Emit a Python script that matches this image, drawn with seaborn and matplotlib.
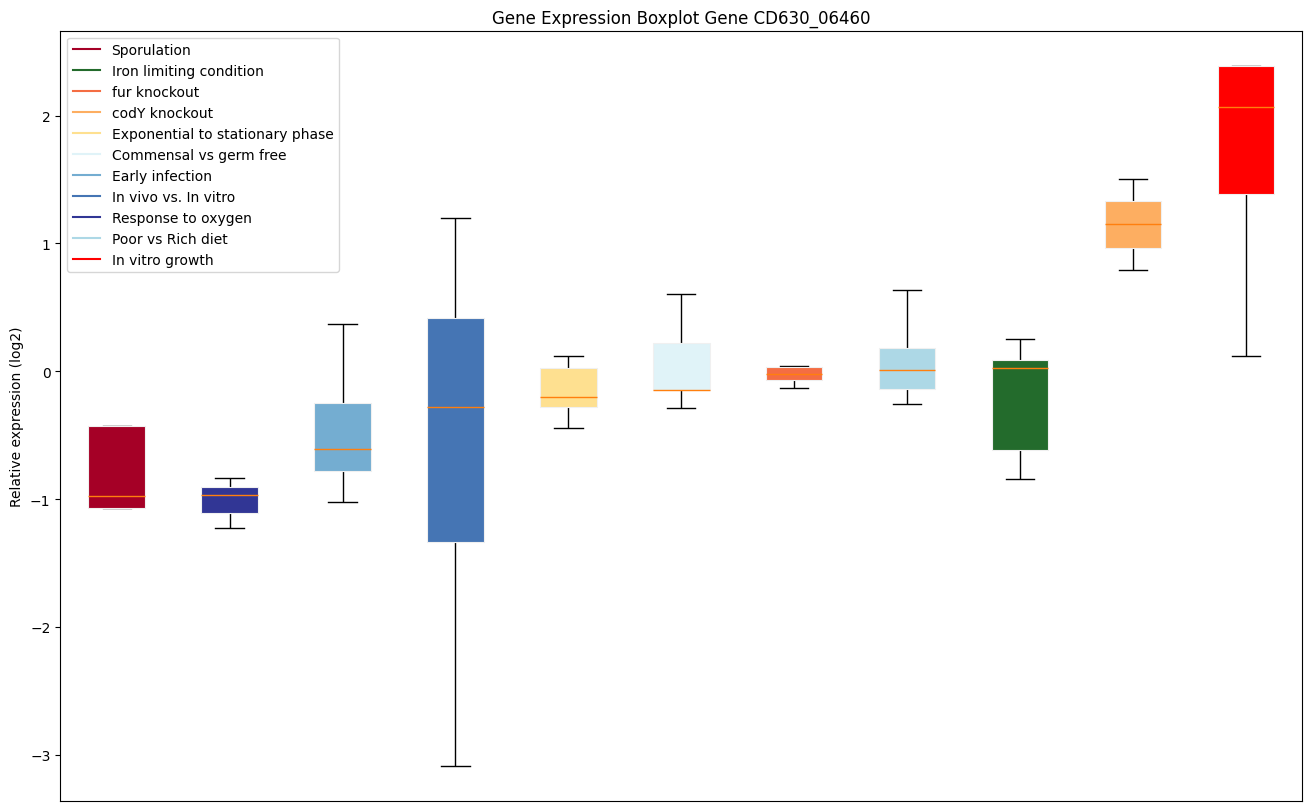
import pandas as pd
import matplotlib.pyplot as plt
from matplotlib.lines import Line2D
import seaborn as sns

# === 1. Valores por condição (min, q1, mediana, q3, max) ===
sporulation = [-1.07, -1.07, -0.977, -0.43, -0.43]
response_oxygen = [-1.227, -1.11, -0.971, -0.904, -0.836]
early_infection = [-1.026, -0.779, -0.604, -0.247, 0.367]
in_vivo_vitro = [-3.089, -1.336, -0.276, 0.414, 1.20]
exp_stationary = [-0.44, -0.279, -0.198, 0.023, 0.117]
commensal = [-0.284, -0.148, -0.143, 0.219, 0.607]
fur_knockout = [-0.133, -0.068, -0.018, 0.031, 0.042]
poor_rich = [-0.253, -0.138, 0.008, 0.18, 0.638]
iron_limiting = [-0.846, -0.617, 0.029, 0.089, 0.255]
cody_knockout = [0.794, 0.964, 1.148, 1.328, 1.50]
in_vitro_growth = [0.117, 1.39, 2.068, 2.39, 2.39]

box_order = ["Sporulation", "Response to oxygen", "Early infection", "In vivo vs. In vitro",
             "Exponential to stationary phase", "Commensal vs germ free", "fur knockout",
             "Poor vs Rich diet", "Iron limiting condition", "codY knockout", "In vitro growth"]
box_values = [sporulation, response_oxygen, early_infection, in_vivo_vitro, exp_stationary,
              commensal, fur_knockout, poor_rich, iron_limiting, cody_knockout, in_vitro_growth]

legend_order = ["Sporulation", "Iron limiting condition", "fur knockout", "codY knockout",
                "Exponential to stationary phase", "Commensal vs germ free", "Early infection",
                "In vivo vs. In vitro", "Response to oxygen", "Poor vs Rich diet", "In vitro growth"]

colors = {
    "Sporulation": "#a50026",
    "Iron limiting condition": "#236b2c",
    "fur knockout": "#f46d43",
    "codY knockout": "#fdae61",
    "Exponential to stationary phase": "#fee090",
    "Commensal vs germ free": "#e0f3f8",
    "Early infection": "#74add1",
    "In vivo vs. In vitro": "#4575b4",
    "Response to oxygen": "#313695",
    "Poor vs Rich diet": "#add8e6",
    "In vitro growth": "#ff0000",
}

rows = []
for cond, vals in zip(box_order, box_values):
    for v in vals:
        rows.append({"condition": cond, "value": v})
df = pd.DataFrame(rows)

# === 2. Plot ===
fig, ax = plt.subplots(figsize=(13.09, 8.12), dpi=100)
sns.boxplot(data=df, x="condition", y="value", hue="condition", order=box_order,
            hue_order=box_order, palette=colors, saturation=1, dodge=False, width=0.5,
            whis=(0, 100), linecolor="black", linewidth=1, legend=False, ax=ax,
            boxprops=dict(edgecolor="#f0f0f0", linewidth=0.8, zorder=3),
            medianprops=dict(color="#ff7f0e", linewidth=1, zorder=4))

handles = [Line2D([0], [0], color=colors[c], lw=1.5) for c in legend_order]
ax.legend(handles, legend_order, loc="upper left")

ax.set_xticks([])
ax.set_xlabel("")
ax.set_ylabel("Relative expression (log2)")
ax.set_title("Gene Expression Boxplot Gene CD630_06460")
plt.subplots_adjust(left=0.046, right=0.995, top=0.961, bottom=0.012)
plt.savefig("out.png", dpi=100)
